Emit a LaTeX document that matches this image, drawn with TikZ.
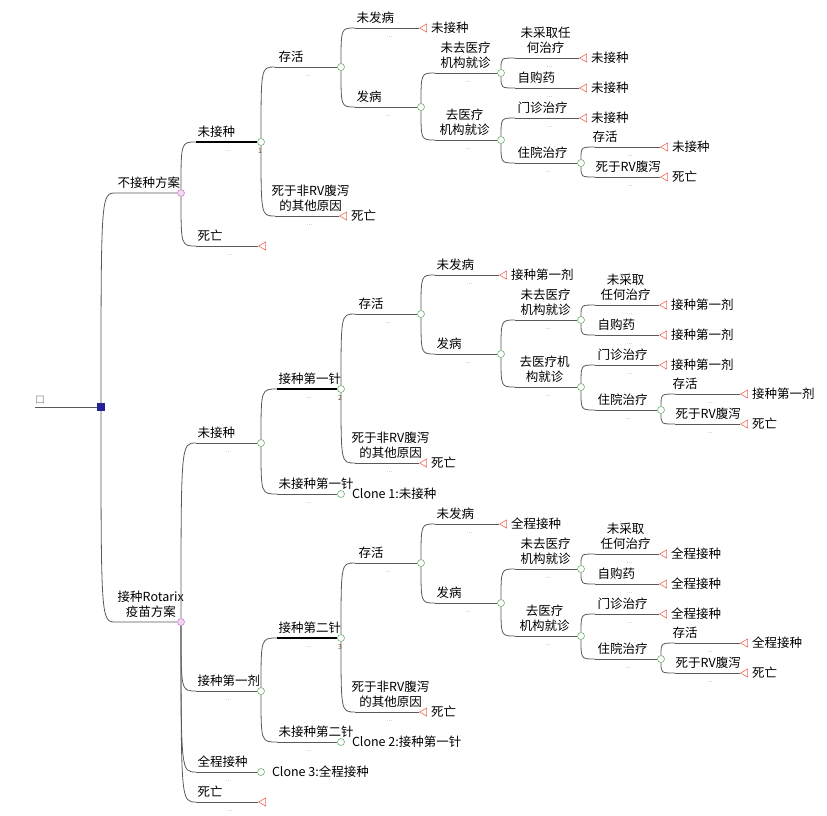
\documentclass[tikz,border=0pt]{standalone}
\usepackage{fontspec}
\setmainfont{Noto Sans CJK SC}
\usetikzlibrary{shapes.geometric,calc}

\providecommand{\lblfont}{\fontsize{12.5}{15}\selectfont}
\providecommand{\dotfont}{\fontsize{6.5}{6.5}\selectfont}
\providecommand{\numfont}{\fontsize{7}{7}\selectfont}

\definecolor{chgreen}{RGB}{110,175,110}
\definecolor{tmred}{RGB}{238,105,90}
\definecolor{dcblue}{RGB}{35,35,150}
\definecolor{lgpink}{RGB}{205,130,205}
\definecolor{dotbrown}{RGB}{190,140,70}

\tikzset{
  br/.style={draw=black!65, line width=0.8pt},
  brthick/.style={draw=black, line width=2pt},
  chance/.style={circle, draw=chgreen, fill=white, line width=0.6pt,
                 inner sep=0pt, minimum size=7pt},
  term/.style={isosceles triangle, isosceles triangle apex angle=60,
               shape border rotate=180, draw=tmred, fill=white,
               line width=0.6pt, inner sep=0pt, minimum height=7pt,
               minimum width=8pt, anchor=apex},
  decide/.style={rectangle, draw=dcblue, fill=dcblue, inner sep=0pt,
                 minimum size=7pt},
  logic/.style={circle, draw=lgpink, fill=lgpink!30, line width=0.6pt,
                inner sep=0pt, minimum size=7pt},
  lab/.style={anchor=south west, inner sep=1.5pt, yshift=3pt, align=center,
              font=\lblfont},
  tlab/.style={anchor=west, inner sep=0pt, xshift=4pt, font=\lblfont},
  dots/.style={font=\dotfont, text=dotbrown, inner sep=0pt},
  num/.style={font=\numfont, text=brown!60!black, inner sep=0pt}
}

% curved branch from a node to the start of the child's line, then the line
\newcommand{\twig}[3][br]{%
  \draw[br] (#2) .. controls (#2 |- #3-in) .. (#3-in);
  \draw[#1] (#3-in) -- (#3);
  \node (#3-p) [dots] at ($(#3-in)!0.5!(#3)+(0,9)$) {...};}

\begin{document}
\begin{tikzpicture}[x=1pt, y=-1pt]
\useasboundingbox (0,0) rectangle (827,815);

% decision
\node (root-t) [font=\fontsize{10}{10}\selectfont, text=black!40, inner sep=0pt]
    at (40,400) {口};
\coordinate (root-in) at (35,407);
\node (root) [decide] at (101,407) {};
\draw[br] (root-in) -- (root);

% strategies
\coordinate (nv-in) at (116,193);
\node (nv) [logic] at (181,193) {};
\node (nv-l) [lab] at (nv-in) {不接种方案};
\coordinate (rx-in) at (116,622);
\node (rx) [logic] at (181,622) {};
\node (rx-l) [lab] at (rx-in) {接种Rotarix\\疫苗方案};
\draw[br] (root) .. controls (root |- nv-in) .. (nv-in) -- (nv);
\draw[br] (root) .. controls (root |- rx-in) .. (rx-in) -- (rx);

% same sub-tree after each dose
\foreach \X/\Y/\tm/\ii/\nr/\wa/\wb in {
    261/142/未接种/a/1/{未采取任\\何治疗}/{去医疗\\机构就诊},
    341/389/接种第一剂/b/2/{未采取\\任何治疗}/{去医疗机\\构就诊},
    341/638/全程接种/c/3/{未采取\\任何治疗}/{去医疗\\机构就诊}}{

  \node (n\ii) [chance] at (\X,\Y) {};
  \node (n\ii-k) [num] at (\X-1,\Y+9) {\nr};

  % alive / other death
  \coordinate (s\ii-in) at (\X+14,\Y-75);
  \node (s\ii) [chance] at (\X+80,\Y-75) {};
  \node (s\ii-l) [lab] at ([xshift=2pt]s\ii-in) {存活};
  \twig{n\ii}{s\ii}

  \coordinate (d\ii-in) at (\X+14,\Y+74);
  \node (d\ii) [term] at (\X+78,\Y+74) {};
  \node (d\ii-l) [lab] at ([xshift=-5pt]d\ii-in) {死于非RV腹泻\\的其他原因};
  \node (d\ii-t) [tlab] at (d\ii.east) {死亡};
  \twig{n\ii}{d\ii}

  % disease or not
  \coordinate (u\ii-in) at (\X+94,\Y-114);
  \node (u\ii) [term] at (\X+158,\Y-114) {};
  \node (u\ii-l) [lab] at (u\ii-in) {未发病};
  \node (u\ii-t) [tlab] at (u\ii.east) {\tm};
  \twig{s\ii}{u\ii}

  \coordinate (f\ii-in) at (\X+94,\Y-35);
  \node (f\ii) [chance] at (\X+160,\Y-35) {};
  \node (f\ii-l) [lab] at (f\ii-in) {发病};
  \twig{s\ii}{f\ii}

  % care seeking
  \coordinate (g\ii-in) at (\X+174,\Y-69);
  \node (g\ii) [chance] at (\X+240,\Y-69) {};
  \node (g\ii-l) [lab] at ([xshift=4pt]g\ii-in) {未去医疗\\机构就诊};
  \twig{f\ii}{g\ii}

  \coordinate (h\ii-in) at (\X+174,\Y-2);
  \node (h\ii) [chance] at (\X+240,\Y-2) {};
  \node (h\ii-l) [lab] at ([xshift=3pt]h\ii-in) {\wb};
  \twig{f\ii}{h\ii}

  % treatment
  \coordinate (p\ii-in) at (\X+254,\Y-84);
  \node (p\ii) [term] at (\X+318,\Y-84) {};
  \node (p\ii-l) [lab] at ([xshift=4pt]p\ii-in) {\wa};
  \node (p\ii-t) [tlab] at (p\ii.east) {\tm};
  \twig{g\ii}{p\ii}

  \coordinate (q\ii-in) at (\X+254,\Y-54);
  \node (q\ii) [term] at (\X+318,\Y-54) {};
  \node (q\ii-l) [lab] at ([xshift=1pt]q\ii-in) {自购药};
  \node (q\ii-t) [tlab] at (q\ii.east) {\tm};
  \twig{g\ii}{q\ii}

  \coordinate (o\ii-in) at (\X+254,\Y-24);
  \node (o\ii) [term] at (\X+318,\Y-24) {};
  \node (o\ii-l) [lab] at ([xshift=1pt]o\ii-in) {门诊治疗};
  \node (o\ii-t) [tlab] at (o\ii.east) {\tm};
  \twig{h\ii}{o\ii}

  \coordinate (z\ii-in) at (\X+254,\Y+21);
  \node (z\ii) [chance] at (\X+320,\Y+21) {};
  \node (z\ii-l) [lab] at ([xshift=1pt]z\ii-in) {住院治疗};
  \twig{h\ii}{z\ii}

  % hospital outcome
  \coordinate (v\ii-in) at (\X+334,\Y+5);
  \node (v\ii) [term] at (\X+399,\Y+5) {};
  \node (v\ii-l) [lab] at ([xshift=-4pt]v\ii-in) {存活};
  \node (v\ii-t) [tlab] at (v\ii.east) {\tm};
  \twig{z\ii}{v\ii}

  \coordinate (r\ii-in) at (\X+334,\Y+35);
  \node (r\ii) [term] at (\X+399,\Y+35) {};
  \node (r\ii-l) [lab] at ([xshift=-1pt]r\ii-in) {死于RV腹泻};
  \node (r\ii-t) [tlab] at (r\ii.east) {死亡};
  \twig{z\ii}{r\ii}
}

% no vaccine
\coordinate (na-in) at (196,142);
\node (na-l) [lab] at (na-in) {未接种};
\twig[brthick]{nv}{na}

\coordinate (dt1-in) at (196,246);
\node (dt1) [term] at (258,246) {};
\node (dt1-l) [lab] at (dt1-in) {死亡};
\twig{nv}{dt1}

% Rotarix
\coordinate (un-in) at (196,443);
\node (un) [chance] at (261,443) {};
\node (un-l) [lab] at (un-in) {未接种};
\twig{rx}{un}

\coordinate (fd-in) at (196,691);
\node (fd) [chance] at (261,691) {};
\node (fd-l) [lab] at (fd-in) {接种第一剂};
\twig{rx}{fd}

\coordinate (full-in) at (196,772);
\node (full) [chance] at (261,772) {};
\node (full-l) [lab] at (full-in) {全程接种};
\node (full-t) [tlab] at ([xshift=3pt]full.east) {Clone 3:全程接种};
\twig{rx}{full}

\coordinate (dt2-in) at (196,802);
\node (dt2) [term] at (258,802) {};
\node (dt2-l) [lab] at (dt2-in) {死亡};
\twig{rx}{dt2}

\coordinate (nb-in) at (277,389);
\node (nb-l) [lab] at (nb-in) {接种第一针};
\twig[brthick]{un}{nb}

\coordinate (cl1-in) at (277,494);
\node (cl1) [chance] at (341,494) {};
\node (cl1-l) [lab] at (cl1-in) {未接种第一针};
\node (cl1-t) [tlab] at ([xshift=3pt]cl1.east) {Clone 1:未接种};
\twig{un}{cl1}

\coordinate (nc-in) at (277,638);
\node (nc-l) [lab] at (nc-in) {接种第二针};
\twig[brthick]{fd}{nc}

\coordinate (cl2-in) at (277,742);
\node (cl2) [chance] at (341,742) {};
\node (cl2-l) [lab] at (cl2-in) {未接种第二针};
\node (cl2-t) [tlab] at ([xshift=3pt]cl2.east) {Clone 2:接种第一针};
\twig{fd}{cl2}

\end{tikzpicture}
\end{document}
